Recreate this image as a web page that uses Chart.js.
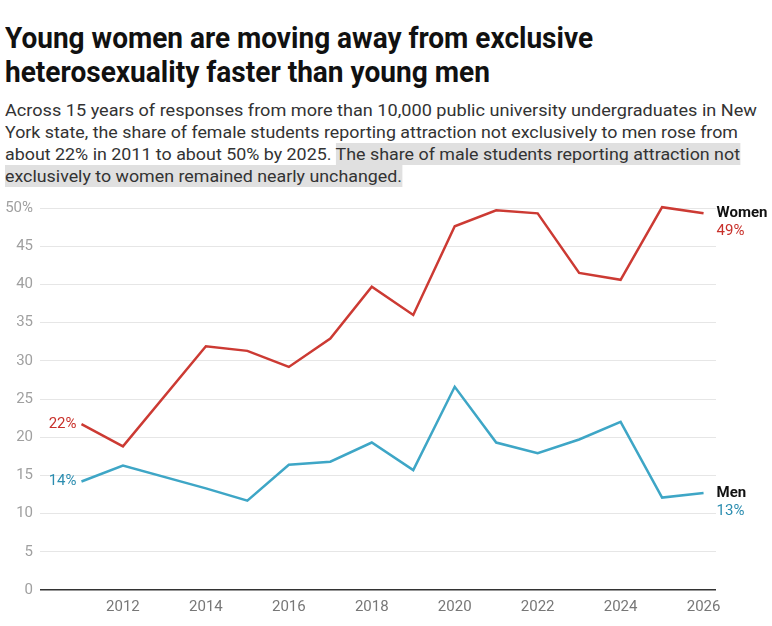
<!DOCTYPE html>
<html>
<head>
<meta charset="utf-8">
<script src="https://cdn.jsdelivr.net/npm/chart.js@4.4.1/dist/chart.umd.min.js"></script>
<style>
  body { margin: 0; background: #fff; width: 772px; height: 626px; overflow: hidden; position: relative; font-family: Roboto, sans-serif; }
  .title { position: absolute; left: 5px; font-weight: 700; font-size: 29px; line-height: 34px; color: #111; white-space: nowrap; transform-origin: 0 50%; }
  .sub { position: absolute; left: 5px; font-size: 17px; line-height: 22px; color: #333; white-space: nowrap; transform-origin: 0 50%; }
  .hl { background: #e0e0e0; padding: 1px 0; }
  #chart { position: absolute; left: 0; top: 190px; }
</style>
</head>
<body>
<div class="title" style="top:21px" data-w="588">Young women are moving away from exclusive</div>
<div class="title" style="top:55px" data-w="485">heterosexuality faster than young men</div>
<div class="sub" style="top:99px" data-w="752">Across 15 years of responses from more than 10,000 public university undergraduates in New</div>
<div class="sub" style="top:121px" data-w="733">York state, the share of female students reporting attraction not exclusively to men rose from</div>
<div class="sub" style="top:143px" data-w="735">about 22% in 2011 to about 50% by 2025. <span class="hl">The share of male students reporting attraction not</span></div>
<div class="sub" style="top:165px" data-w="397"><span class="hl">exclusively to women remained nearly unchanged.</span></div>
<canvas id="chart" width="772" height="436"></canvas>
<script>
// survey years (no 2013 round)
const years = [2011, 2012, 2014, 2015, 2016, 2017, 2018, 2019, 2020, 2021, 2022, 2023, 2024, 2025, 2026];
const women = [21.7, 18.8, 31.9, 31.3, 29.2, 32.9, 39.7, 36.0, 47.6, 49.7, 49.3, 41.5, 40.6, 50.1, 49.3];
const men = [14.2, 16.3, 13.3, 11.7, 16.4, 16.8, 19.3, 15.7, 26.6, 19.3, 17.9, 19.7, 22.0, 12.1, 12.7];
const xTicks = [2012, 2014, 2016, 2018, 2020, 2022, 2024, 2026];
const seriesNames = ['Women', 'Men'];
const lineColors = ['#cc3a33', '#3ea6c6'];
const labelColors = ['#c8302a', '#2b8db0'];

// squeeze header lines to the reference widths (condensed look)
document.querySelectorAll('[data-w]').forEach(function(el) {
    const w = el.getBoundingClientRect().width;
    el.style.transform = 'scaleX(' + (Number(el.dataset.w) / w) + ')';
});

// end labels next to the first and last points
const endLabels = {
    id: 'endLabels',
    afterDatasetsDraw(chart) {
        const ctx = chart.ctx;
        chart.data.datasets.forEach(function(ds, i) {
            const pts = chart.getDatasetMeta(i).data;
            const first = pts[0];
            const last = pts[pts.length - 1];
            ctx.save();
            ctx.textBaseline = 'middle';
            ctx.font = '15px Roboto';
            ctx.fillStyle = labelColors[i];
            ctx.textAlign = 'right';
            ctx.fillText(Math.round(ds.data[0].y) + '%', first.x - 5, first.y);
            ctx.textAlign = 'left';
            ctx.fillText(Math.round(ds.data[ds.data.length - 1].y) + '%', last.x + 13, last.y + 18);
            ctx.font = 'bold 15px Roboto';
            ctx.fillStyle = '#111';
            ctx.fillText(seriesNames[i], last.x + 13, last.y);
            ctx.restore();
        });
    }
};

function toPoints(values) {
    return years.map(function(y, i) { return { x: y, y: values[i] }; });
}

new Chart(document.getElementById('chart').getContext('2d'), {
    type: 'line',
    data: {
        datasets: [women, men].map(function(values, i) {
            return {
                label: seriesNames[i],
                data: toPoints(values),
                borderColor: lineColors[i],
                borderWidth: 2.5,
                pointRadius: 0,
                tension: 0,
                clip: false
            };
        })
    },
    options: {
        responsive: false,
        animation: false,
        layout: { padding: { top: 18, right: 56, left: 0, bottom: 0 } },
        plugins: { legend: { display: false }, tooltip: { enabled: false } },
        scales: {
            x: {
                type: 'linear',
                min: 2010,
                max: 2026.3,
                afterBuildTicks: function(scale) {
                    scale.ticks = xTicks.map(function(v) { return { value: v }; });
                },
                afterFit: function(scale) { scale.height = 36; },
                grid: { display: false, drawTicks: false },
                border: { display: false },
                ticks: {
                    autoSkip: false,
                    maxRotation: 0,
                    padding: 8,
                    color: '#777',
                    font: { family: 'Roboto', size: 15 },
                    callback: function(v) { return String(v); }
                }
            },
            y: {
                min: 0,
                max: 50,
                afterFit: function(scale) { scale.width = 40; },
                border: { display: false },
                grid: {
                    drawTicks: false,
                    color: function(c) { return c.tick && c.tick.value === 0 ? '#333' : '#e6e6e6'; },
                    lineWidth: function(c) { return c.tick && c.tick.value === 0 ? 1.5 : 1; }
                },
                ticks: {
                    stepSize: 5,
                    padding: 7,
                    color: '#a0a0a0',
                    font: { family: 'Roboto', size: 15 },
                    callback: function(v) { return v === 50 ? '50%' : v; }
                }
            }
        }
    },
    plugins: [endLabels]
});
</script>
</body>
</html>
